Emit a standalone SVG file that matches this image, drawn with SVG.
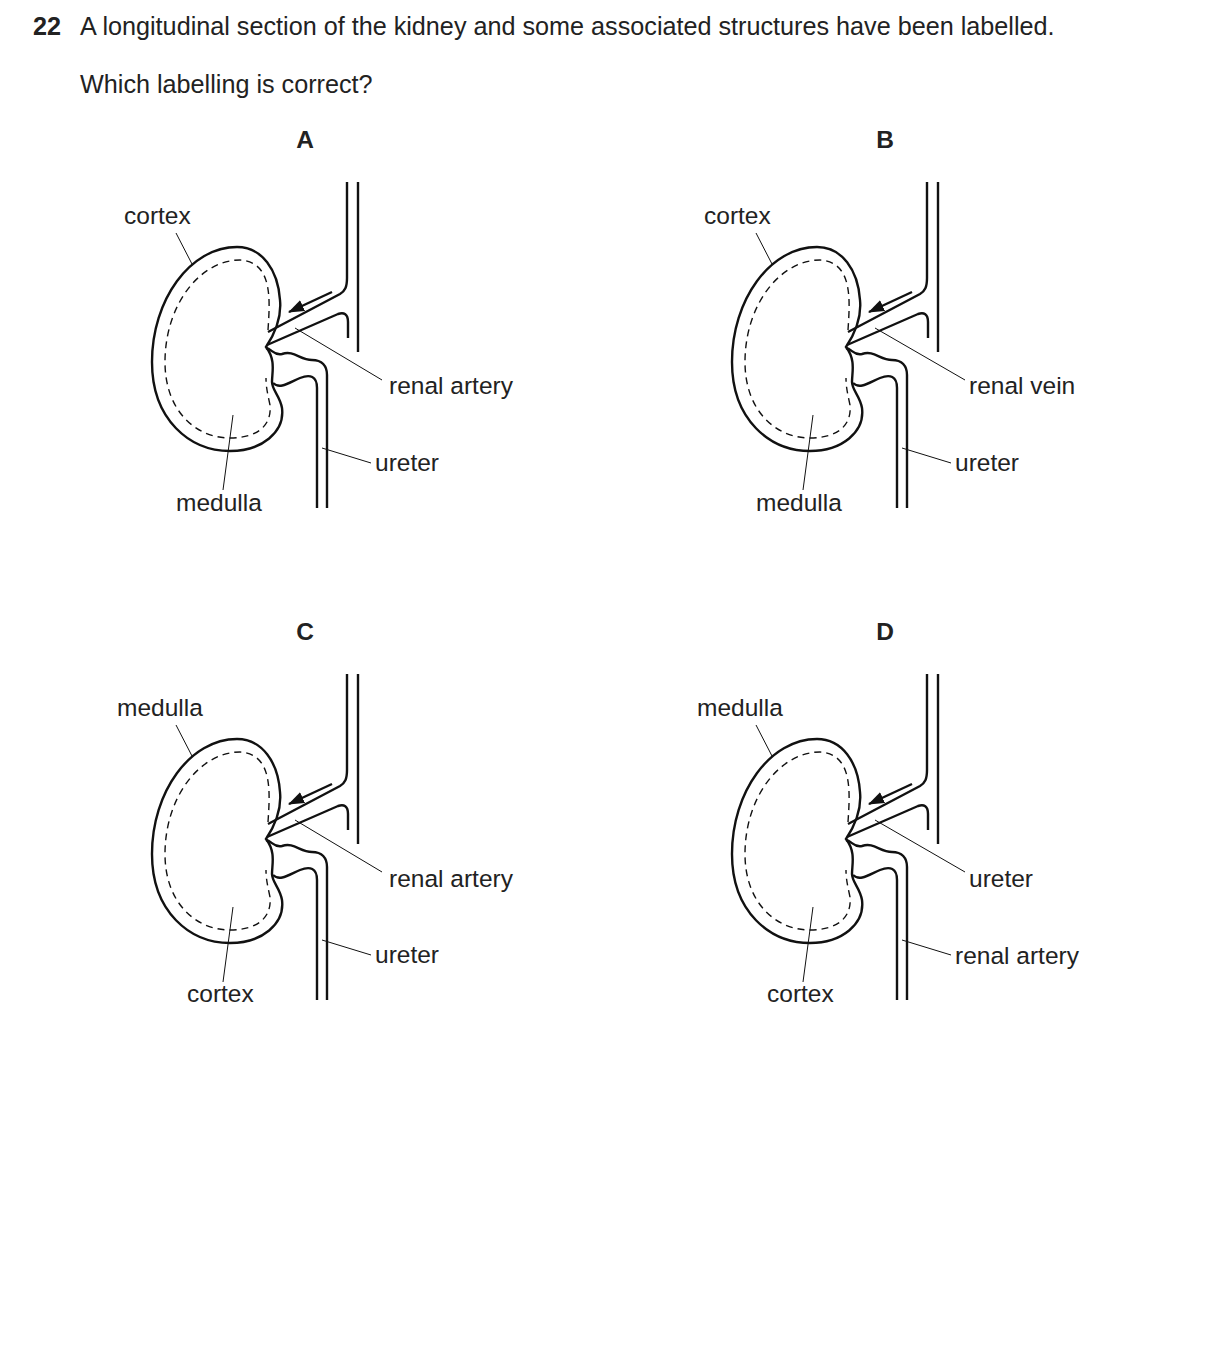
<svg xmlns="http://www.w3.org/2000/svg" width="1209" height="1366" viewBox="0 0 1209 1366">
<style>
text{font-family:"Liberation Sans",Arial,sans-serif;font-size:24.5px;fill:#222}
.t{font-size:25.2px}
.b{font-weight:bold}
.o{fill:none;stroke:#111;stroke-width:2.4}
.d{fill:none;stroke:#111;stroke-width:1.4;stroke-dasharray:7 5}
.l{fill:none;stroke:#111;stroke-width:1}
</style>
<defs>
<marker id="ah" markerWidth="16" markerHeight="12" refX="15" refY="6" orient="auto" markerUnits="userSpaceOnUse"><path d="M0,0 L16,6 L0,12 Z" fill="#111"/></marker>
<g id="k">
<path class="o" d="M266,347 C272,338 282,320 280,300 C278,270 262,247 237,247 C190,247 152,300 152,362 C152,420 190,451 230,451 C262,451 285,432 282,408 C280,396 272,390 272,382 C272,372 276,360 266,347 Z" fill="#fff"/>
<path class="d" d="M268,330 C270,300 273,262 240,260 C200,260 165,305 165,362 C165,410 195,438 230,438 C258,438 272,425 270,405 C268,395 266,388 266,378"/>
<path class="o" d="M268,332 L340,294 C345,291 347,287 347,278 L347,182"/>
<path class="o" d="M267,345 L338,314 C344,312 348,314 348,322 L348,338"/>
<path class="o" d="M358,182 L358,352"/>
<path class="o" d="M266,348 C272,349 274,356 282,354 C294,350 300,360 312,360 C322,360 327,366 327,375 L327,508"/>
<path class="o" d="M273,383 C280,390 290,382 300,378 C310,374 317,376 317,388 L317,508"/>
<path class="o" d="M332,292 L289,312" marker-end="url(#ah)"/>
</g>
</defs>
<text x="33" y="35" class="b t">22</text>
<text x="80" y="35" class="t">A longitudinal section of the kidney and some associated structures have been labelled.</text>
<text x="80" y="93" class="t">Which labelling is correct?</text>

<g id="panelA">
<text x="305" y="148" class="b" text-anchor="middle">A</text>
<use href="#k"/>
<text x="124" y="224">cortex</text><path class="l" d="M176,233 L192,264"/>
<text x="176" y="511">medulla</text><path class="l" d="M233,415 L223,490"/>
<text x="389" y="394">renal artery</text><path class="l" d="M295,328 L382,380"/>
<text x="375" y="471">ureter</text><path class="l" d="M322,448 L371,463"/>
</g>
<g id="panelB">
<text x="885" y="148" class="b" text-anchor="middle">B</text>
<use href="#k" x="580"/>
<text x="704" y="224">cortex</text><path class="l" d="M756,233 L772,264"/>
<text x="756" y="511">medulla</text><path class="l" d="M813,415 L803,490"/>
<text x="969" y="394">renal vein</text><path class="l" d="M875,328 L965,380"/>
<text x="955" y="471">ureter</text><path class="l" d="M902,448 L951,463"/>
</g>
<g id="panelC">
<text x="305" y="640" class="b" text-anchor="middle">C</text>
<use href="#k" y="492"/>
<text x="117" y="716">medulla</text><path class="l" d="M176,725 L192,756"/>
<text x="187" y="1002">cortex</text><path class="l" d="M233,907 L223,982"/>
<text x="389" y="887">renal artery</text><path class="l" d="M295,820 L382,872"/>
<text x="375" y="963">ureter</text><path class="l" d="M322,940 L371,955"/>
</g>
<g id="panelD">
<text x="885" y="640" class="b" text-anchor="middle">D</text>
<use href="#k" x="580" y="492"/>
<text x="697" y="716">medulla</text><path class="l" d="M756,725 L772,756"/>
<text x="767" y="1002">cortex</text><path class="l" d="M813,907 L803,982"/>
<text x="969" y="887">ureter</text><path class="l" d="M875,820 L965,872"/>
<text x="955" y="964">renal artery</text><path class="l" d="M902,940 L951,955"/>
</g>
</svg>
